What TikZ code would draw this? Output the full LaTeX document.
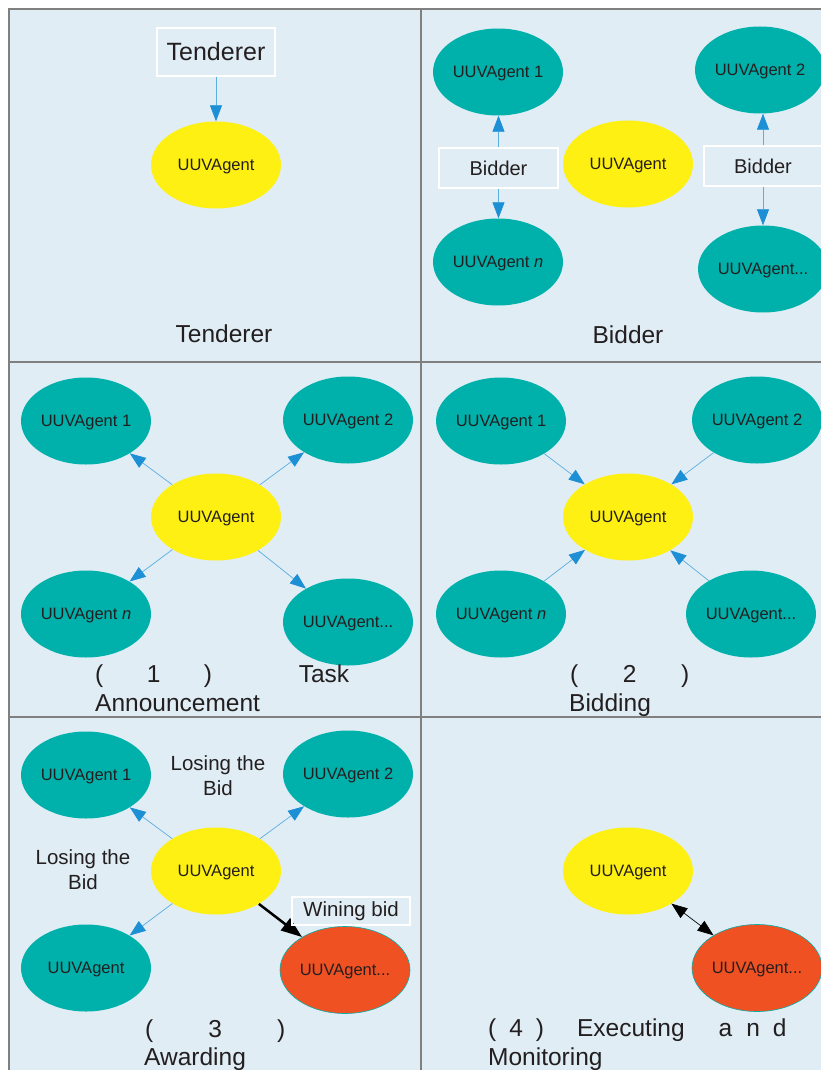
\documentclass[tikz,border=0pt]{standalone}
\usepackage{fontspec}
\setmainfont{Liberation Sans}
\usetikzlibrary{shapes.geometric,arrows.meta}
\definecolor{bg}{HTML}{E0EDF5}
\definecolor{tealag}{HTML}{00B0AA}
\definecolor{sun}{HTML}{FFF013}
\definecolor{redag}{HTML}{EF5123}
\definecolor{arrowblue}{HTML}{1C8FD5}
\definecolor{lineblue}{HTML}{5AAEE0}
\definecolor{txt}{HTML}{231F20}
\definecolor{gridgrey}{HTML}{808080}
\tikzset{
  agent/.style={ellipse, fill=tealag, minimum width=130pt, minimum height=87pt, inner sep=0pt, text=txt, font=\fontsize{16.5}{19}\selectfont, text height=11.8pt, text depth=0pt},
  hub/.style={agent, fill=sun},
  winner/.style={agent, fill=redag, draw=tealag, line width=0.6pt},
  rolebox/.style={draw=white, line width=1.4pt, inner sep=0pt, text=txt},
  bluearrow/.style={draw=lineblue, line width=0.7pt, -{Triangle[length=16pt,width=12pt,color=arrowblue]}},
  award/.style={draw=black, line width=2.5pt, -{Triangle[length=21pt,width=15pt]}},
  monitor/.style={draw=black, line width=0.7pt, {Triangle[length=16pt,width=12pt]}-{Triangle[length=16pt,width=12pt]}},
  capline/.style={text=txt, font=\fontsize{24.5}{30}\selectfont, inner sep=0pt, anchor=base west},
  paneltitle/.style={text=txt, font=\fontsize{24.5}{30}\selectfont, inner sep=0pt, anchor=base},
  lose/.style={text=txt, font=\fontsize{20.5}{25}\selectfont, align=center, inner sep=0pt},
  gridline/.style={draw=gridgrey, line width=1.2pt}
}
\begin{document}
\begin{tikzpicture}[x=1pt,y=-1pt]
\useasboundingbox (0,0) rectangle (821,1070);
\clip (0,0) rectangle (821,1070);
\fill[white] (0,0) rectangle (821,1070);
\fill[bg] (9,9) rectangle (830,1080);
\draw[gridline] (9,1080) -- (9,9) -- (830,9);
\draw[gridline] (421,9) -- (421,1080);
\draw[gridline] (9,362) -- (830,362);
\draw[gridline] (9,717) -- (830,717);

% Panel 1: Tenderer
\node[rolebox, minimum width=118pt, minimum height=48pt, font=\fontsize{25}{30}\selectfont] (p1t) at (216,52) {Tenderer};
\node[hub] (p1y) at (216,165) {UUVAgent};
\draw[bluearrow] (p1t.south) -- (p1y.north);
\node[paneltitle] (p1l) at (224,342) {Tenderer};

% Panel 2: Bidder
\node[agent] (p2a1) at (498,72) {UUVAgent 1};
\node[agent] (p2a2) at (760,70) {UUVAgent 2};
\node[hub] (p2y) at (628,164) {UUVAgent};
\node[agent] (p2an) at (498,262) {UUVAgent \textit{n}};
\node[agent] (p2ad) at (763,269) {UUVAgent...};
\node[rolebox, minimum width=119pt, minimum height=40pt, font=\fontsize{20}{24}\selectfont] (p2b1) at (498.5,168) {Bidder};
\node[rolebox, minimum width=118pt, minimum height=40pt, font=\fontsize{20}{24}\selectfont] (p2b2) at (763,166) {Bidder};
\draw[bluearrow] (p2b1.north) -- (p2b1.north |- p2a1.south);
\draw[bluearrow] (p2b1.south) -- (p2b1.south |- p2an.north);
\draw[bluearrow] (p2b2.north) -- (p2b2.north |- p2a2.south);
\draw[bluearrow] (p2b2.south) -- (p2b2.south |- p2ad.north);
\node[paneltitle] (p2l) at (628,343) {Bidder};

% Panel 3: Task Announcement
\node[agent] (p3a1) at (86,421) {UUVAgent 1};
\node[agent] (p3a2) at (348,420) {UUVAgent 2};
\node[hub] (p3y) at (216,517) {UUVAgent};
\node[agent] (p3an) at (86,614) {UUVAgent \textit{n}};
\node[agent] (p3ad) at (348,622) {UUVAgent...};
\draw[bluearrow] (p3y) -- (p3a1);
\draw[bluearrow] (p3y) -- (p3a2);
\draw[bluearrow] (p3y) -- (p3an);
\draw[bluearrow] (p3y) -- (p3ad);
\node[capline] (p3c1) at (95,682) {\hbox to 254pt{(\hfil 1\hfil )\hfil\hfil Task}};
\node[capline] (p3c2) at (95,711) {Announcement};

% Panel 4: Bidding
\node[agent] (p4a1) at (501,421) {UUVAgent 1};
\node[agent] (p4a2) at (757,420) {UUVAgent 2};
\node[hub] (p4y) at (628,517) {UUVAgent};
\node[agent] (p4an) at (501,614) {UUVAgent \textit{n}};
\node[agent] (p4ad) at (751,614) {UUVAgent...};
\draw[bluearrow] (p4a1) -- (p4y);
\draw[bluearrow] (p4a2) -- (p4y);
\draw[bluearrow] (p4an) -- (p4y);
\draw[bluearrow] (p4ad) -- (p4y);
\node[capline] (p4c1) at (570,682) {\hbox to 119pt{(\hfil 2\hfil )}};
\node[capline] (p4c2) at (569,711) {Bidding};

% Panel 5: Awarding
\node[agent] (p5a1) at (86,775) {UUVAgent 1};
\node[agent] (p5a2) at (348,774) {UUVAgent 2};
\node[hub] (p5y) at (216,871) {UUVAgent};
\node[agent] (p5an) at (86,968) {UUVAgent};
\node[winner] (p5w) at (345,970) {UUVAgent...};
\draw[bluearrow] (p5y) -- (p5a1);
\draw[bluearrow] (p5y) -- (p5a2);
\draw[bluearrow] (p5y) -- (p5an);
\draw[award] (p5y) -- (p5w);
\node[lose] (p5l1) at (218,775.5) {Losing the\\Bid};
\node[lose] (p5l2) at (83,869.5) {Losing the\\Bid};
\node[rolebox, minimum width=118pt, minimum height=28pt, font=\fontsize{20.5}{24}\selectfont] (p5wb) at (351,911) {Wining bid};
\node[capline] (p5c1) at (145,1037) {\hbox to 140pt{(\hfil 3\hfil )}};
\node[capline] (p5c2) at (144,1065) {Awarding};

% Panel 6: Executing and Monitoring
\node[hub] (p6y) at (628,871) {UUVAgent};
\node[winner] (p6w) at (757,968) {UUVAgent...};
\draw[monitor] (p6y) -- (p6w);
\node[capline] (p6c1) at (488,1036) {(\hspace{13pt}4\hspace{13pt})\hspace{33pt}Executing\hspace{34pt}a\hspace{14pt}n\hspace{13pt}d};
\node[capline] (p6c2) at (488,1065) {Monitoring};
\end{tikzpicture}
\end{document}
